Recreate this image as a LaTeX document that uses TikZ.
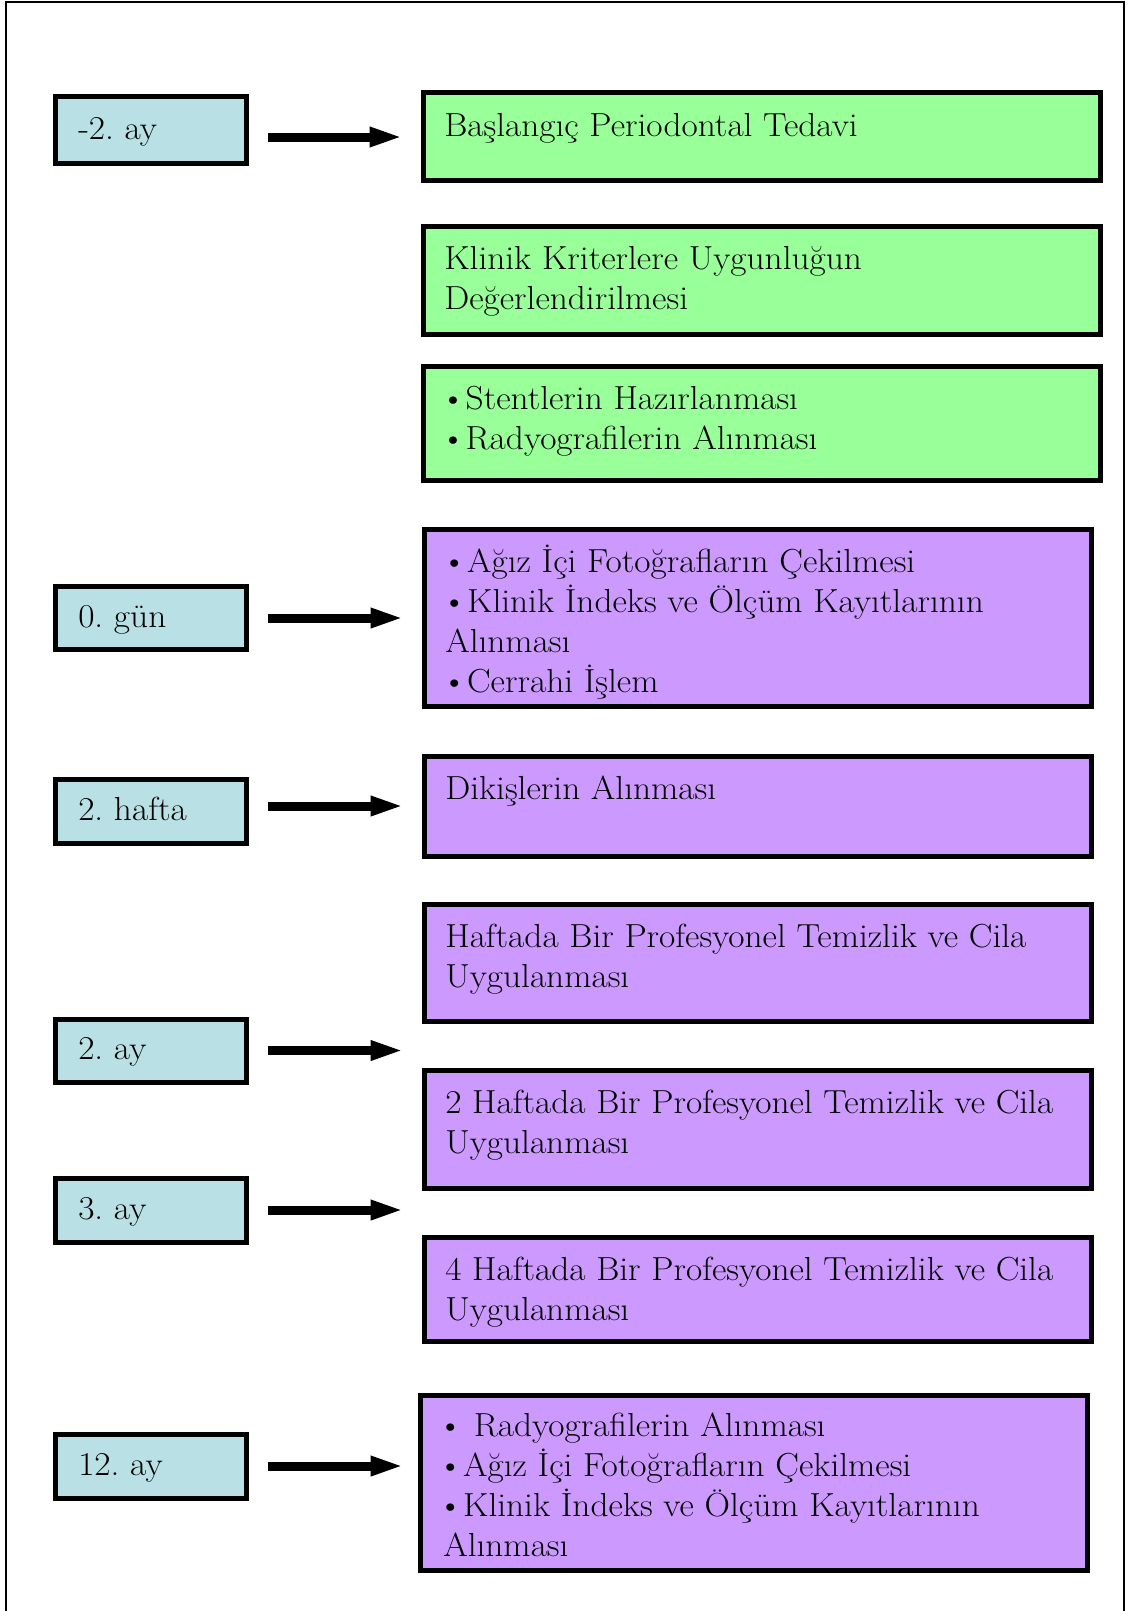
\documentclass[tikz,border=0pt]{standalone}
\usepackage{fontspec}
\setmainfont{Latin Modern Roman}[FakeStretch=1.06]
\usetikzlibrary{arrows.meta,fit,calc}
\definecolor{lblue}{RGB}{185,224,228}
\definecolor{lgreen}{RGB}{153,255,153}
\definecolor{lpurple}{RGB}{204,153,255}
\frenchspacing
\begin{document}
\begin{tikzpicture}[x=0.75pt,y=-0.75pt,
  box/.style={draw=black, line width=3.75pt, inner sep=0pt, rectangle},
  tbox/.style={box, fill=lblue},
  gbox/.style={box, fill=lgreen},
  pbox/.style={box, fill=lpurple},
  txt/.style={inner sep=0pt, align=left, font=\fontsize{25}{30}\selectfont\frenchspacing, anchor=base west},
  arr/.style={line width=6.75pt, -{Triangle[length=25pt,width=13.5pt]}},
]
\useasboundingbox (0,0) rectangle (1129,1611);
\draw[line width=1.5pt] (5.5,1611) -- (5.5,2) -- (1123.5,2) -- (1123.5,1611);

% left time boxes
\node[tbox, fit={(55.5,96.5) (246.5,163.5)}] (l1) {};
\node[tbox, fit={(55.5,586.5) (246.5,649.5)}] (l2) {};
\node[tbox, fit={(55.5,779) (246.5,843)}] (l3) {};
\node[tbox, fit={(55.5,1019) (246.5,1082)}] (l4) {};
\node[tbox, fit={(55.5,1178) (246.5,1242)}] (l5) {};
\node[tbox, fit={(55.5,1434) (246.5,1498)}] (l6) {};

\node[txt] (lt1) at ($(l1.west)+(25,9)$) {-2. ay};
\node[txt] (lt2) at ($(l2.west)+(25,9)$) {0. gün};
\node[txt] (lt3) at ($(l3.west)+(25,9)$) {2. hafta};
\node[txt] (lt4) at ($(l4.west)+(25,9)$) {2. ay};
\node[txt] (lt5) at ($(l5.west)+(25,9)$) {3. ay};
\node[txt] (lt6) at ($(l6.west)+(25,9)$) {12. ay};

% right boxes
\node[gbox, fit={(423.5,92.5) (1100.5,180.5)}] (g1) {};
\node[gbox, fit={(423.5,226.5) (1100.5,334.5)}] (g2) {};
\node[gbox, fit={(423.5,366.5) (1100.5,480.5)}] (g3) {};
\node[pbox, fit={(424.5,529.5) (1091.5,706.5)}] (p1) {};
\node[pbox, fit={(424.5,756.5) (1091.5,856.5)}] (p2) {};
\node[pbox, fit={(424.5,904.5) (1091.5,1021.5)}] (p3) {};
\node[pbox, fit={(424.5,1070.5) (1091.5,1188.5)}] (p4) {};
\node[pbox, fit={(424.5,1237.5) (1091.5,1341.5)}] (p5) {};
\node[pbox, fit={(420.5,1395.5) (1087.5,1570.5)}] (p6) {};

% text: anchor is baseline of the LAST line -> first baseline + 40*(n-1)
\node[txt] (gt1) at ($(g1.north west)+(23,46)$) {Başlangıç Periodontal Tedavi};
\node[txt] (gt2) at ($(g2.north west)+(23,85)$) {Klinik Kriterlere Uygunluğun\\Değerlendirilmesi};
\node[txt] (gt3) at ($(g3.north west)+(23,85)$) {\hspace*{-3pt}•Stentlerin Hazırlanması\\\hspace*{-3pt}•Radyografilerin Alınması};
\node[txt] (pt1) at ($(p1.north west)+(23,165)$) {\hspace*{-2.7pt}•Ağız İçi Fotoğrafların Çekilmesi\\\hspace*{-2.7pt}•Klinik İndeks ve Ölçüm Kayıtlarının\\Alınması\\\hspace*{-2.7pt}•Cerrahi İşlem};
\node[txt] (pt2) at ($(p2.north west)+(23,45)$) {Dikişlerin Alınması};
\node[txt] (pt3) at ($(p3.north west)+(23,85)$) {Haftada Bir Profesyonel Temizlik ve Cila\\Uygulanması};
\node[txt] (pt4) at ($(p4.north west)+(23,85)$) {2 Haftada Bir Profesyonel Temizlik ve Cila\\Uygulanması};
\node[txt] (pt5) at ($(p5.north west)+(23,85)$) {4 Haftada Bir Profesyonel Temizlik ve Cila\\Uygulanması};
\node[txt] (pt6) at ($(p6.north west)+(25,163)$) {\hspace*{-4.2pt}• Radyografilerin Alınması\\\hspace*{-4.2pt}•Ağız İçi Fotoğrafların Çekilmesi\\\hspace*{-4.2pt}•Klinik İndeks ve Ölçüm Kayıtlarının\\Alınması};

% arrows
\draw[arr] ($(l1.east)+(19,7)$) -- ($(l1.east -| g1.west)+(-18,7)$);
\draw[arr] ($(l2.east)+(19,0)$) -- ($(l2.east -| p1.west)+(-18,0)$);
\draw[arr] ($(l3.east)+(19,-5)$) -- ($(l3.east -| p2.west)+(-18,-5)$);
\draw[arr] ($(l4.east)+(19,0)$) -- ($(l4.east -| p3.west)+(-18,0)$);
\draw[arr] ($(l5.east)+(19,0)$) -- ($(l5.east -| p4.west)+(-18,0)$);
\draw[arr] ($(l6.east)+(19,0)$) -- ($(l6.east -| p6.west)+(-14,0)$);
\end{tikzpicture}
\end{document}
